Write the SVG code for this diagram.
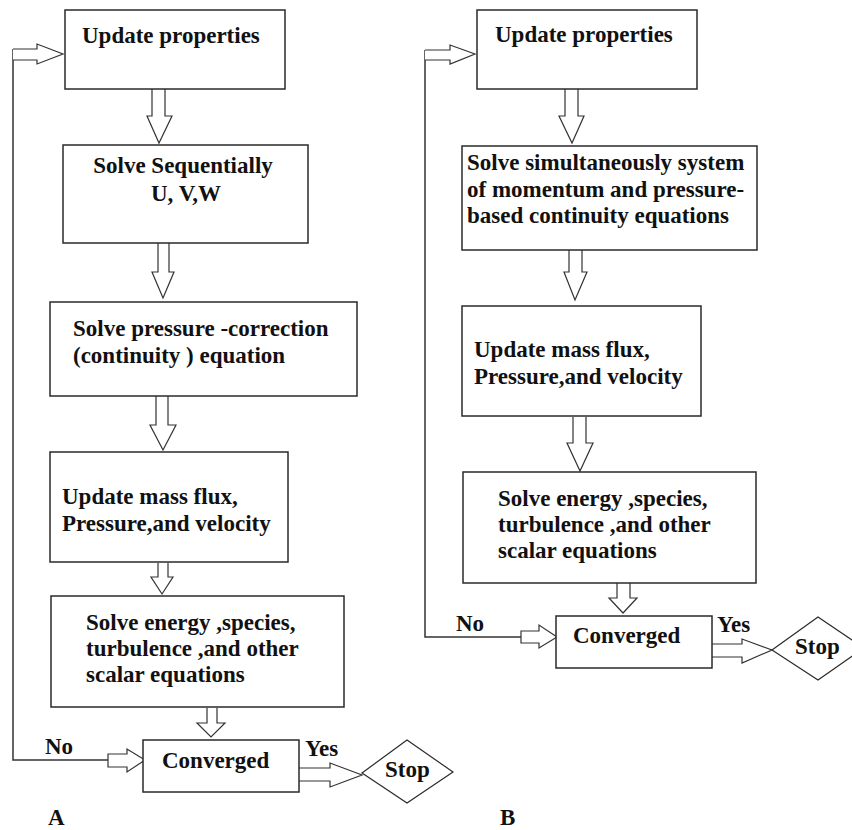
<svg xmlns="http://www.w3.org/2000/svg" width="852" height="830" viewBox="0 0 852 830">
<style>
.box{fill:#fff;stroke:#2a2a2a;stroke-width:1.5}
.arr{fill:#fff;stroke:#333;stroke-width:1.2;stroke-linejoin:miter}
.ln{fill:none;stroke:#333;stroke-width:1.5}
</style>
<rect width="852" height="830" fill="#fff"/>
<g font-weight="bold" font-size="23" fill="#111">
<g id="connectors">
<path class="ln" d="M13,49 L13,760 L143,760"/>
<path class="arr" d="M13,49 L37,49 L37,44 L63,54 L37,64 L37,60 L13,60"/>
<path class="arr" d="M108,754 L127,754 L127,749 L145,760 L127,772 L127,767 L108,767 Z"/>
<path class="arr" d="M299,768 L330,768 L330,763 L362,775 L330,787 L330,781 L299,781"/>
<path class="arr" d="M152,89 L152,116 L147,116 L159,143 L172,116 L165,116 L165,89"/>
<path class="arr" d="M158,243 L158,272 L152,272 L163,298 L174,272 L169,272 L169,243"/>
<path class="arr" d="M156,396 L156,425 L150,425 L163,450 L176,425 L168,425 L168,396"/>
<path class="arr" d="M158,563 L158,577 L151,577 L162,594 L173,577 L168,577 L168,563"/>
<path class="arr" d="M207,708 L207,723 L197,723 L211,737 L225,723 L217,723 L217,708"/>
<path class="ln" d="M425,50 L425,637 L556,637"/>
<path class="arr" d="M425,50 L450,50 L450,45 L475,54 L450,64 L450,60 L425,60"/>
<path class="arr" d="M521,631 L539,631 L539,625 L557,637 L539,648 L539,643 L521,643 Z"/>
<path class="arr" d="M712,644 L742,644 L742,639 L772,650 L742,663 L742,657 L712,657"/>
<path class="arr" d="M565,89 L565,116 L559,116 L572,143 L584,116 L578,116 L578,89"/>
<path class="arr" d="M569,250 L569,272 L564,272 L575,300 L587,272 L582,272 L582,250"/>
<path class="arr" d="M573,417 L573,443 L567,443 L580,471 L593,443 L586,443 L586,417"/>
<path class="arr" d="M617,583 L617,598 L609,598 L623,613 L637,598 L630,598 L630,583"/>
</g>
<g id="A-update">
<rect class="box" x="65" y="10" width="220" height="79"/>
<text x="82" y="43" style="font-family:'Liberation Serif',serif">Update properties</text>
</g>
<g id="A-solve-seq">
<rect class="box" x="63" y="145" width="245" height="98"/>
<text x="183" y="173" text-anchor="middle" style="font-family:'Liberation Serif',serif">Solve Sequentially</text>
<text x="186" y="201" text-anchor="middle" style="font-family:'Liberation Serif',serif">U, V,W</text>
</g>
<g id="A-pressure">
<rect class="box" x="50" y="302" width="307" height="94"/>
<text x="73" y="336" style="font-family:'Liberation Serif',serif">Solve pressure -correction</text>
<text x="73" y="363" style="font-family:'Liberation Serif',serif">(continuity ) equation</text>
</g>
<g id="A-mass">
<rect class="box" x="50" y="452" width="238" height="110"/>
<text x="62" y="504" style="font-family:'Liberation Serif',serif">Update mass flux,</text>
<text x="62" y="531" style="font-family:'Liberation Serif',serif">Pressure,and velocity</text>
</g>
<g id="A-energy">
<rect class="box" x="51" y="596" width="293" height="111"/>
<text x="86" y="630" style="font-family:'Liberation Serif',serif">Solve energy ,species,</text>
<text x="86" y="656" style="font-family:'Liberation Serif',serif">turbulence ,and other</text>
<text x="86" y="682" style="font-family:'Liberation Serif',serif">scalar equations</text>
</g>
<g id="A-converged">
<rect class="box" x="143" y="740" width="156" height="52"/>
<text x="162" y="768" style="font-family:'Liberation Serif',serif">Converged</text>
</g>
<g id="A-stop">
<polygon class="box" points="362,773 407,740 453,772 407,803" style="stroke-width:1.2"/>
<text x="385" y="777" style="font-family:'Liberation Serif',serif">Stop</text>
</g>
<g id="A-labels">
<text x="45" y="754" style="font-family:'Liberation Serif',serif">No</text>
<text x="305" y="756" style="font-family:'Liberation Serif',serif">Yes</text>
<text x="48" y="825" style="font-family:'Liberation Serif',serif">A</text>
</g>
<g id="B-update">
<rect class="box" x="477" y="10" width="220" height="79"/>
<text x="495" y="42" style="font-family:'Liberation Serif',serif">Update properties</text>
</g>
<g id="B-solve-sim">
<rect class="box" x="462" y="146" width="295" height="104"/>
<text x="467" y="170" style="font-family:'Liberation Serif',serif">Solve simultaneously system</text>
<text x="467" y="197" style="font-family:'Liberation Serif',serif">of momentum and pressure-</text>
<text x="467" y="223" style="font-family:'Liberation Serif',serif">based continuity equations</text>
</g>
<g id="B-mass">
<rect class="box" x="462" y="306" width="239" height="110"/>
<text x="474" y="357" style="font-family:'Liberation Serif',serif">Update mass flux,</text>
<text x="474" y="384" style="font-family:'Liberation Serif',serif">Pressure,and velocity</text>
</g>
<g id="B-energy">
<rect class="box" x="463" y="472" width="293" height="111"/>
<text x="498" y="506" style="font-family:'Liberation Serif',serif">Solve energy ,species,</text>
<text x="498" y="532" style="font-family:'Liberation Serif',serif">turbulence ,and other</text>
<text x="498" y="558" style="font-family:'Liberation Serif',serif">scalar equations</text>
</g>
<g id="B-converged">
<rect class="box" x="556" y="616" width="156" height="52"/>
<text x="573" y="643" style="font-family:'Liberation Serif',serif">Converged</text>
</g>
<g id="B-stop">
<polygon class="box" points="772,650 818,617 864,648 818,680" style="stroke-width:1.2"/>
<text x="795" y="654" style="font-family:'Liberation Serif',serif">Stop</text>
</g>
<g id="B-labels">
<text x="456" y="631" style="font-family:'Liberation Serif',serif">No</text>
<text x="717" y="632" style="font-family:'Liberation Serif',serif">Yes</text>
<text x="500" y="825" style="font-family:'Liberation Serif',serif">B</text>
</g>
</g>
</svg>
